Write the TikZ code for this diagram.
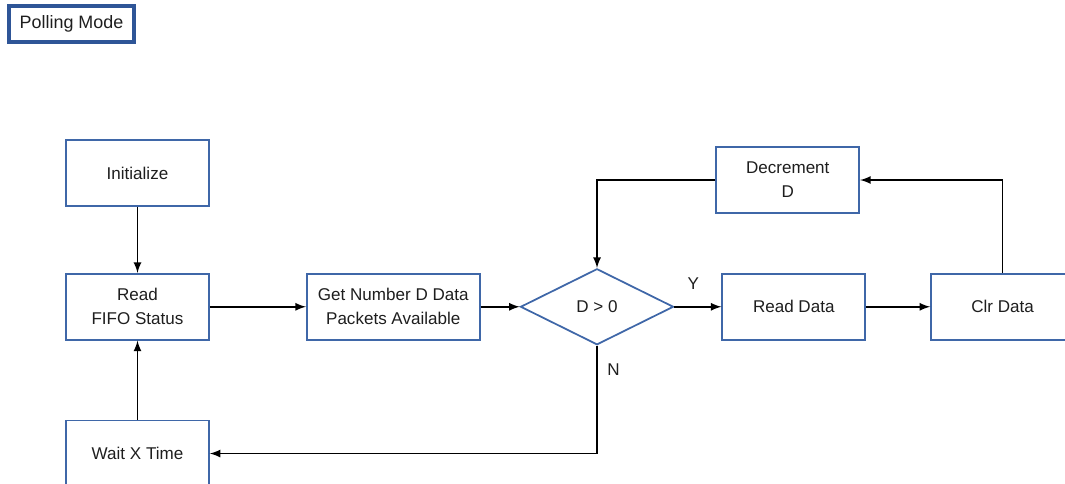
\documentclass[tikz,border=0pt]{standalone}
\usepackage{xcolor}
\usepackage{fontspec}
\setmainfont{Liberation Sans}
\usetikzlibrary{shapes.geometric, arrows, positioning}

\definecolor{boxblue}{HTML}{3F67A8}
\definecolor{titleblue}{HTML}{2E5597}
\definecolor{inkgray}{HTML}{1E1E1E}

\begin{document}
\begin{tikzpicture}[node distance=1.3cm,
    font=\fontsize{9.7}{13.6}\selectfont, text=inkgray,
    block/.style={draw=boxblue, line width=1pt, rectangle, align=center, minimum width=2.86cm, minimum height=1.32cm},
    flow/.style={draw, line width=1.05pt, -latex}]
    \useasboundingbox (0,0) rectangle (21.3,-9.66);

    \node[draw=titleblue, line width=2pt, rectangle, minimum width=2.5cm, minimum height=0.72cm, font=\fontsize{10.2}{12}\selectfont] (mode) at (1.43,-0.48) {Polling Mode};

    \node[block] (init) at (2.75,-3.46) {Initialize};
    \node[block, below=1.32cm of init] (fifo) {Read\\FIFO Status};
    \node[block, below=1.58cm of fifo] (wait) {Wait X Time};
    \node[block, minimum width=3.46cm, right=1.92cm of fifo] (count) {Get Number D Data\\Packets Available};
    \node[draw=boxblue, line width=1pt, diamond, aspect=2, inner sep=0pt, minimum width=3.06cm, minimum height=1.52cm, right=0.78cm of count] (check) {D > 0};
    \node[block, right=0.94cm of check] (read) {Read Data};
    \node[block, right=1.28cm of read] (clr) {Clr Data};
    \node[block, above=1.18cm of read, xshift=-0.12cm] (dec) {Decrement\\D};

    \draw[flow] (init) -- (fifo);
    \draw[flow] (wait) -- (fifo);
    \draw[flow] (fifo) -- (count);
    \draw[flow] (count) -- (check);
    \draw[flow] (check) -- node[above, pos=0.4, yshift=6pt] {Y} (read);
    \draw[flow] (read) -- (clr);
    \draw[flow] (clr.north) |- (dec.east);
    \draw[flow] (dec.west) -| (check.north);
    \draw[flow] (check.south) |- node[right, pos=0.11, xshift=2pt] {N} (wait.east);
\end{tikzpicture}
\end{document}
